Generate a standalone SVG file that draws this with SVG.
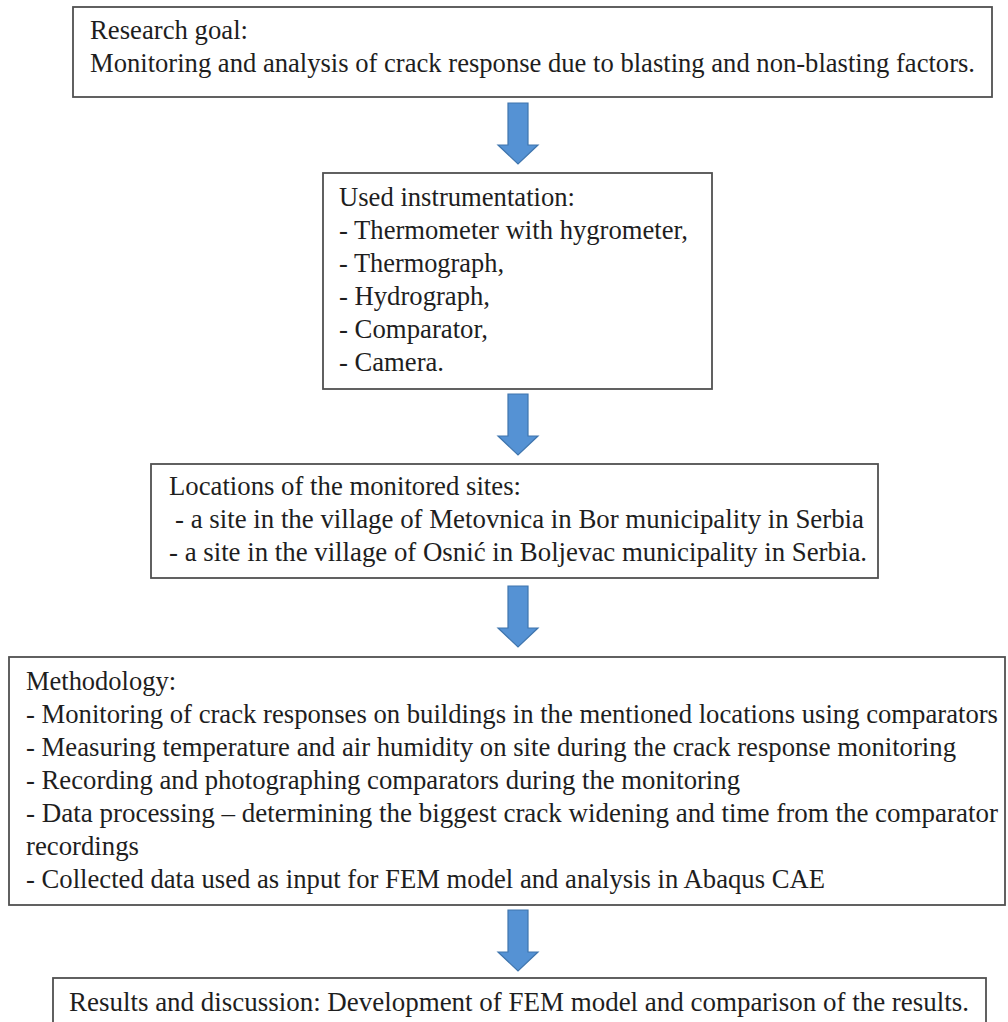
<svg xmlns="http://www.w3.org/2000/svg" width="1008" height="1022" viewBox="0 0 1008 1022" font-family="Liberation Serif, DejaVu Serif, serif">
<style>
.box{fill:#ffffff;stroke:#505050;stroke-width:1.8}
.t{font-size:26.5px;fill:#1e1e1e}
.arr{fill:#5592d4;stroke:#3f75ad;stroke-width:1.2}
</style>
<defs>
<path id="arrow" d="M-10,0 H10 V42 H20 L0,61 L-20,42 H-10 Z"/>
</defs>
<rect width="1008" height="1022" fill="#ffffff"/>
<g id="connectors">
<use href="#arrow" class="arr" x="518" y="103"/>
<use href="#arrow" class="arr" x="518" y="394"/>
<use href="#arrow" class="arr" x="518" y="586"/>
<use href="#arrow" class="arr" x="518" y="910"/>
</g>
<g id="node-goal" font-family="Liberation Serif, DejaVu Serif, serif">
<rect class="box" x="73" y="7" width="919" height="90"/>
<text class="t" x="90" y="39" textLength="158" lengthAdjust="spacingAndGlyphs">Research goal:</text>
<text class="t" x="90" y="72" textLength="885" lengthAdjust="spacingAndGlyphs">Monitoring and analysis of crack response due to blasting and non-blasting factors.</text>
</g>
<g id="node-instrumentation" font-family="Liberation Serif, DejaVu Serif, serif">
<rect class="box" x="323" y="173" width="389" height="216"/>
<text class="t" x="339" y="206" textLength="236" lengthAdjust="spacingAndGlyphs">Used instrumentation:</text>
<text class="t" x="339" y="239" textLength="349" lengthAdjust="spacingAndGlyphs">- Thermometer with hygrometer,</text>
<text class="t" x="339" y="272" textLength="165" lengthAdjust="spacingAndGlyphs">- Thermograph,</text>
<text class="t" x="339" y="305" textLength="151" lengthAdjust="spacingAndGlyphs">- Hydrograph,</text>
<text class="t" x="339" y="338" textLength="149" lengthAdjust="spacingAndGlyphs">- Comparator,</text>
<text class="t" x="339" y="371" textLength="105" lengthAdjust="spacingAndGlyphs">- Camera.</text>
</g>
<g id="node-locations" font-family="Liberation Serif, DejaVu Serif, serif">
<rect class="box" x="151" y="464" width="727" height="114"/>
<text class="t" x="169" y="495" textLength="352" lengthAdjust="spacingAndGlyphs">Locations of the monitored sites:</text>
<text class="t" x="175" y="528" textLength="689" lengthAdjust="spacingAndGlyphs">- a site in the village of Metovnica in Bor municipality in Serbia</text>
<text class="t" x="169" y="561" textLength="698" lengthAdjust="spacingAndGlyphs">- a site in the village of Osnić in Boljevac municipality in Serbia.</text>
</g>
<g id="node-methodology" font-family="Liberation Serif, DejaVu Serif, serif">
<rect class="box" x="9" y="657" width="996" height="248"/>
<text class="t" x="26" y="690" textLength="150" lengthAdjust="spacingAndGlyphs">Methodology:</text>
<text class="t" x="26" y="723" textLength="972" lengthAdjust="spacingAndGlyphs">- Monitoring of crack responses on buildings in the mentioned locations using comparators</text>
<text class="t" x="26" y="756" textLength="930" lengthAdjust="spacingAndGlyphs">- Measuring temperature and air humidity on site during the crack response monitoring</text>
<text class="t" x="26" y="789" textLength="714" lengthAdjust="spacingAndGlyphs">- Recording and photographing comparators during the monitoring</text>
<text class="t" x="26" y="822" textLength="972" lengthAdjust="spacingAndGlyphs">- Data processing – determining the biggest crack widening and time from the comparator</text>
<text class="t" x="26" y="855" textLength="113" lengthAdjust="spacingAndGlyphs">recordings</text>
<text class="t" x="26" y="888" textLength="799" lengthAdjust="spacingAndGlyphs">- Collected data used as input for FEM model and analysis in Abaqus CAE</text>
</g>
<g id="node-results" font-family="Liberation Serif, DejaVu Serif, serif">
<rect class="box" x="53" y="978" width="933" height="60"/>
<text class="t" x="69" y="1011" textLength="900" lengthAdjust="spacingAndGlyphs">Results and discussion: Development of FEM model and comparison of the results.</text>
</g>
</svg>
